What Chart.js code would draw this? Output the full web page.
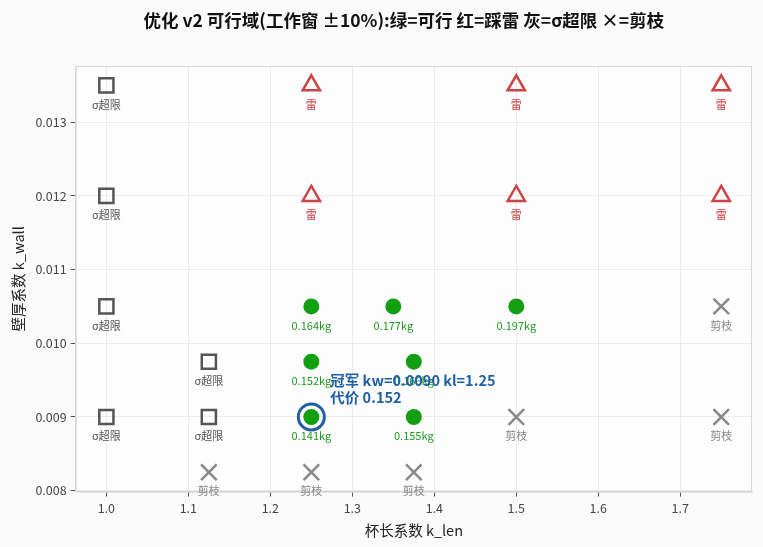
<!DOCTYPE html>
<html>
<head>
<meta charset="utf-8">
<script src="https://cdn.jsdelivr.net/npm/chart.js@4"></script>
<style>
  html, body { margin: 0; padding: 0; background: #fafafa; overflow: hidden; }
  #wrap { width: 763px; height: 547px; }
  canvas { display: block; }
</style>
</head>
<body>
<div id="wrap"><canvas id="feasible"></canvas></div>
<script>
const titleText = '优化 v2 可行域(工作窗 ±10%):绿=可行 红=踩雷 灰=σ超限 ×=剪枝'

// x = k_len, y = k_wall
const sigmaX = [1.0, 1.0, 1.0, 1.0, 1.125, 1.125]
const sigmaY = [0.0135, 0.012, 0.0105, 0.009, 0.00975, 0.009]

const mineX = [1.25, 1.5, 1.75, 1.25, 1.5, 1.75]
const mineY = [0.0135, 0.0135, 0.0135, 0.012, 0.012, 0.012]

const okX = [1.25, 1.35, 1.5, 1.25, 1.375, 1.25, 1.375]
const okY = [0.0105, 0.0105, 0.0105, 0.00975, 0.00975, 0.009, 0.009]
const okMass = [0.164, 0.177, 0.197, 0.152, 0.166, 0.141, 0.155]

const pruneX = [1.75, 1.5, 1.75, 1.125, 1.25, 1.375]
const pruneY = [0.0105, 0.009, 0.009, 0.00825, 0.00825, 0.00825]

const champKl = 1.25
const champKw = 0.009
const champCost = 0.152

const xTicks = [1.0, 1.1, 1.2, 1.3, 1.4, 1.5, 1.6, 1.7]
const yTicks = [0.008, 0.009, 0.010, 0.011, 0.012, 0.013]

const font = '"Noto Sans CJK SC", "Noto Sans", sans-serif'

function pts(xs, ys) {
  return xs.map((x, i) => ({ x: x, y: ys[i] }))
}

// text under each marker + champion note + title + frame
const tagPlugin = {
  id: 'tags',
  beforeDraw(chart) {
    const { ctx, chartArea: a } = chart
    ctx.save()
    ctx.fillStyle = '#fdfdfd'
    ctx.fillRect(a.left, a.top, a.right - a.left, a.bottom - a.top)
    ctx.restore()
  },
  afterDatasetsDraw(chart) {
    const ctx = chart.ctx
    const a = chart.chartArea
    ctx.save()
    ctx.strokeStyle = '#d8d8d8'
    ctx.lineWidth = 1
    ctx.strokeRect(a.left + 0.5, a.top + 0.5, a.right - a.left - 1, a.bottom - a.top)

    ctx.textAlign = 'center'
    ctx.textBaseline = 'middle'
    chart.data.datasets.forEach((ds, di) => {
      if (!ds.tags) return
      const meta = chart.getDatasetMeta(di)
      ctx.fillStyle = ds.tagColor
      ctx.font = (ds.tagSize || 11) + 'px ' + font
      meta.data.forEach((el, i) => {
        ctx.fillText(ds.tags[i], el.x, el.y + 19)
      })
    })

    const ci = chart.data.datasets.findIndex(d => d.champion)
    const c = chart.getDatasetMeta(ci).data[0]
    ctx.textAlign = 'left'
    ctx.fillStyle = '#1f5fa6'
    ctx.font = 'bold 14.5px ' + font
    ctx.fillText('冠军 kw=' + champKw.toFixed(4) + ' kl=' + champKl.toFixed(2), c.x + 19, c.y - 36)
    ctx.fillText('代价 ' + champCost.toFixed(3), c.x + 19, c.y - 19)

    ctx.textAlign = 'center'
    ctx.fillStyle = '#111'
    ctx.font = 'bold 17.5px ' + font
    ctx.fillText(titleText, (a.left + a.right) / 2 - 10, 20)
    ctx.restore()
  }
}

new Chart(document.getElementById('feasible').getContext('2d'), {
  type: 'scatter',
  data: {
    datasets: [
      {
        label: 'σ超限',
        data: pts(sigmaX, sigmaY),
        pointStyle: 'rect',
        pointRadius: 10,
        backgroundColor: 'rgba(0,0,0,0)',
        borderColor: '#555555',
        borderWidth: 2.5,
        tags: sigmaX.map(() => 'σ超限'),
        tagColor: '#555555'
      },
      {
        label: '踩雷',
        data: pts(mineX, mineY),
        pointStyle: 'triangle',
        pointRadius: 10,
        backgroundColor: 'rgba(0,0,0,0)',
        borderColor: '#cc4444',
        borderWidth: 2.5,
        tags: mineX.map(() => '雷'),
        tagColor: '#cc4444'
      },
      {
        label: '可行',
        data: pts(okX, okY),
        pointStyle: 'circle',
        pointRadius: 8,
        backgroundColor: '#12a012',
        borderColor: '#12a012',
        borderWidth: 0,
        tags: okMass.map(m => m.toFixed(3) + 'kg'),
        tagColor: '#1f9a1f'
      },
      {
        label: '剪枝',
        data: pts(pruneX, pruneY),
        pointStyle: 'crossRot',
        pointRadius: 11,
        borderColor: '#888888',
        borderWidth: 2.5,
        tags: pruneX.map(() => '剪枝'),
        tagColor: '#888888'
      },
      {
        label: '冠军',
        champion: true,
        data: [{ x: champKl, y: champKw }],
        pointStyle: 'circle',
        pointRadius: 13,
        backgroundColor: 'rgba(0,0,0,0)',
        borderColor: '#1f5fa6',
        borderWidth: 3
      }
    ]
  },
  options: {
    responsive: true,
    maintainAspectRatio: false,
    animation: false,
    events: [],
    layout: { autoPadding: false, padding: { left: 6, right: 11, top: 66, bottom: 4 } },
    plugins: {
      legend: { display: false },
      tooltip: { enabled: false }
    },
    scales: {
      x: {
        type: 'linear',
        min: 0.9625,
        max: 1.7875,
        afterBuildTicks: s => { s.ticks = xTicks.map(v => ({ value: v })) },
        ticks: {
          color: '#444',
          font: { family: font, size: 12.5 },
          padding: 4,
          callback: v => v.toFixed(1)
        },
        grid: { color: '#ececec', tickColor: '#555', tickLength: 5 },
        border: { color: '#d0d0d0' },
        title: { display: true, text: '杯长系数 k_len', color: '#222', font: { family: font, size: 14.5 }, padding: { top: 2 } }
      },
      y: {
        type: 'linear',
        min: 0.0079875,
        max: 0.0137625,
        afterBuildTicks: s => { s.ticks = yTicks.map(v => ({ value: v })) },
        ticks: {
          color: '#444',
          font: { family: font, size: 12.5 },
          padding: 4,
          callback: v => v.toFixed(3)
        },
        grid: { color: '#ececec', tickColor: '#555', tickLength: 5 },
        border: { color: '#d0d0d0' },
        title: { display: true, text: '壁厚系数 k_wall', color: '#222', font: { family: font, size: 14.5 }, padding: { bottom: 4 } }
      }
    }
  },
  plugins: [tagPlugin]
})
</script>
</body>
</html>
